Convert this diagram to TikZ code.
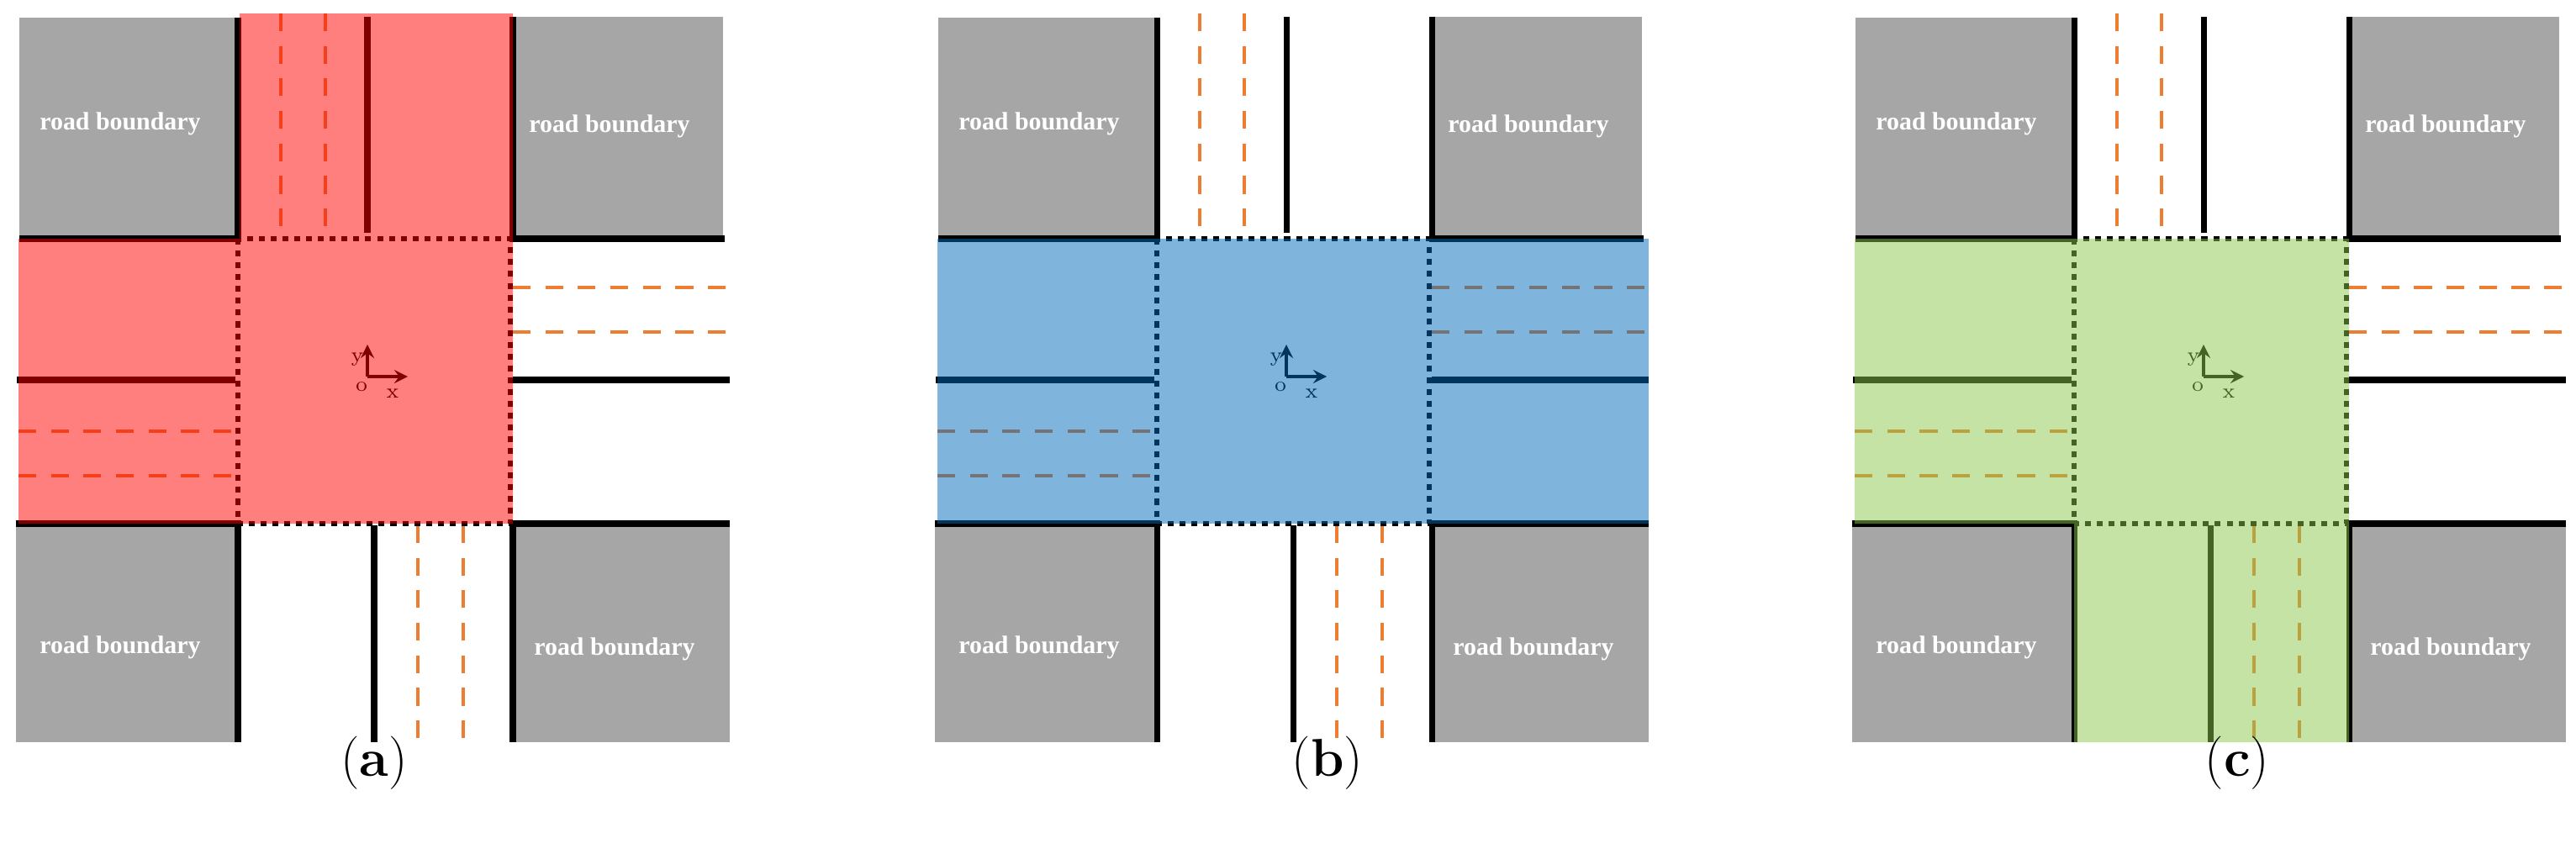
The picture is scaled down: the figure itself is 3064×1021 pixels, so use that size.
\documentclass[tikz,border=0pt]{standalone}
\usepackage{fontspec}
\newfontfamily\rbfont{Liberation Serif}
\definecolor{dorange}{RGB}{237,125,49}
\definecolor{ovblue}{RGB}{0,107,187}
\definecolor{ovgreen}{RGB}{139,199,75}
\begin{document}
\begin{tikzpicture}[x=0.01cm,y=-0.01cm,
  gray/.style={fill=black!35,draw=none},
  bl/.style={line width=2pt,black},
  cl/.style={line width=2pt,black},
  dsh/.style={line width=0.9pt,dorange,dash pattern=on 6pt off 5pt},
  dot/.style={line width=1.6pt,black,dash pattern=on 2pt off 2pt},
  rb/.style={text=white,font=\rbfont\bfseries\fontsize{8.5}{10}\selectfont},
  lab/.style={font=\fontsize{18}{20}\selectfont}]
\useasboundingbox (0,0) rectangle (3064,1021);
\newcommand{\panelbase}{%
  \fill[gray] (23,21) rectangle (283,282);
  \fill[gray] (610,20) rectangle (860,284);
  \fill[gray] (19,623) rectangle (283,883);
  \fill[gray] (610,623) rectangle (868,883);
  \draw[bl] (23,284) -- (283,284) -- (283,21);
  \draw[bl] (610,20) -- (610,284) -- (862,284);
  \draw[bl] (19,623) -- (283,623) -- (283,883);
  \draw[bl] (868,623) -- (610,623) -- (610,883);
  \draw[cl] (437,20) -- (437,277);
  \draw[cl] (445,625) -- (445,883);
  \draw[cl] (20,452) -- (280,452);
  \draw[cl] (610,452) -- (868,452);
  \draw[dsh] (334,16) -- (334,280); \draw[dsh] (387,16) -- (387,280);
  \draw[dsh] (610,342) -- (870,342); \draw[dsh] (610,395) -- (870,395);
  \draw[dsh] (22,513) -- (280,513); \draw[dsh] (22,566) -- (280,566);
  \draw[dsh] (497,625) -- (497,883); \draw[dsh] (551,625) -- (551,883);
  \draw[dot] (283,284) rectangle (607,623);
  \node[rb] at (143,147) {road boundary};
  \node[rb] at (725,150) {road boundary};
  \node[rb] at (143,770) {road boundary};
  \node[rb] at (731,772) {road boundary};
  \draw[line width=1pt,-stealth] (437,448) -- (437,410);
  \draw[line width=1pt,-stealth] (437,448) -- (485,448);
  \node[font=\fontsize{7}{8}\selectfont,inner sep=0] at (425,428) {y};
  \node[font=\fontsize{7}{8}\selectfont,inner sep=0] at (430,460) {o};
  \node[font=\fontsize{7}{8}\selectfont,inner sep=0] at (467,468) {x};
}
\begin{scope}
  \panelbase
  \fill[red,fill opacity=0.5] (285,16) -- (610,16) -- (610,623) -- (22,623) -- (22,284) -- (285,284) -- cycle;
\end{scope}
\begin{scope}[shift={(1093,0)}]
  \panelbase
  \fill[ovblue,fill opacity=0.5] (22,284) rectangle (868,623);
\end{scope}
\begin{scope}[shift={(2184,0)}]
  \panelbase
  \fill[ovgreen,fill opacity=0.5] (22,284) -- (610,284) -- (610,883) -- (283,883) -- (283,623) -- (22,623) -- cycle;
\end{scope}
\node[lab] (la) at (445,908) {(\textbf{a})};
\node[lab] (lb) at (1579,908) {(\textbf{b})};
\node[lab] (lc) at (2661,908) {(\textbf{c})};
\end{tikzpicture}
\end{document}
